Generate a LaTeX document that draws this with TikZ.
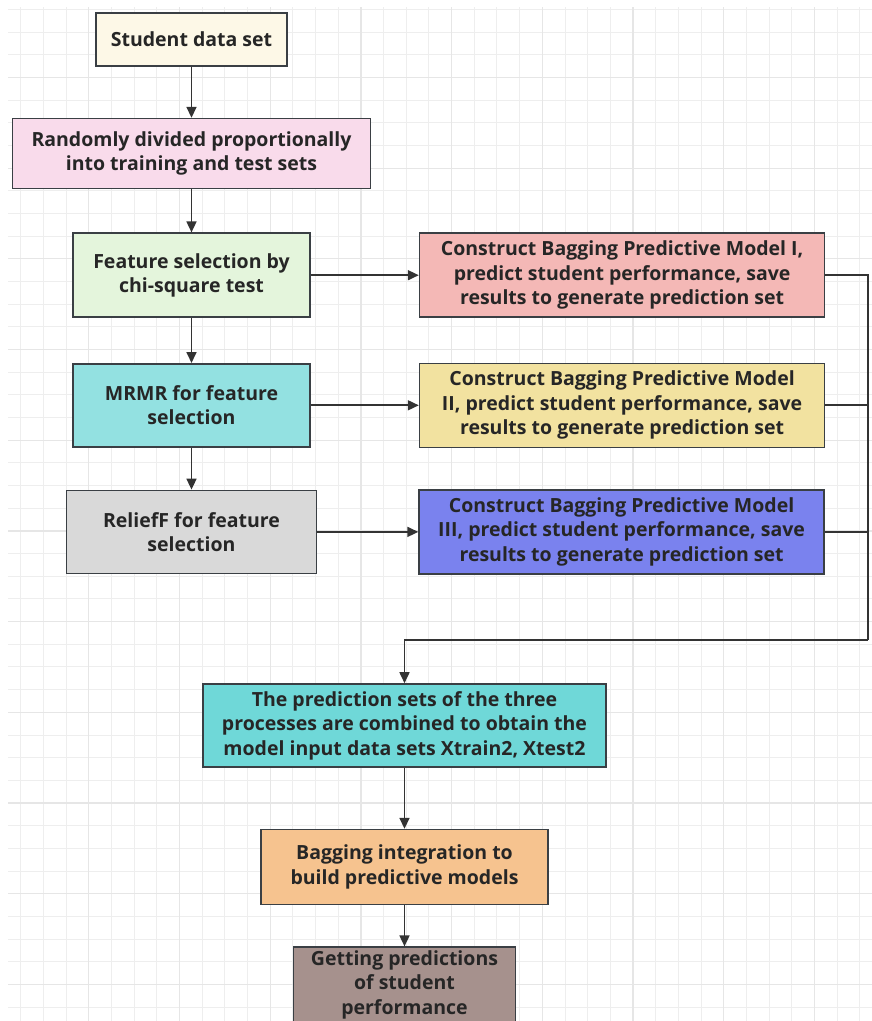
\documentclass[tikz,border=0pt]{standalone}
\usepackage{fontspec}
\setmainfont{Open Sans}
\usetikzlibrary{arrows.meta,positioning,calc}

\definecolor{gridminor}{HTML}{EEEEEE}
\definecolor{gridmajor}{HTML}{E6E6E6}
\definecolor{boxline}{HTML}{3A3F44}
\definecolor{wirecol}{HTML}{333333}
\definecolor{txt}{HTML}{262626}
\definecolor{cStud}{HTML}{FDF8E7}
\definecolor{cSplit}{HTML}{F9DBEB}
\definecolor{cChi}{HTML}{E4F5DC}
\definecolor{cMrmr}{HTML}{93E1E1}
\definecolor{cRelief}{HTML}{D9D9D9}
\definecolor{cModA}{HTML}{F4B8B6}
\definecolor{cModB}{HTML}{F2E2A0}
\definecolor{cModC}{HTML}{7A82EE}
\definecolor{cComb}{HTML}{6FD8D8}
\definecolor{cBag}{HTML}{F6C38F}
\definecolor{cGet}{HTML}{A6918D}

\begin{document}
\begin{tikzpicture}[
  x=1pt, y=-1pt,
  box/.style    = {draw=boxline, line width=1.6pt, rectangle, align=center,
                   inner sep=2pt, text=txt,
                   font=\fontsize{19.5}{24.5}\selectfont\bfseries},
  model/.style  = {box, minimum width=405pt, minimum height=84pt},
  wire/.style   = {draw=wirecol, line width=1.7pt},
  arr/.style    = {wire, -{Triangle[length=11pt, width=10pt]}},
]
\useasboundingbox (0,0) rectangle (872,1021);
% background grid
\foreach \k in {0,...,38}
  \draw[gridminor, line width=1pt] (20.8+22.675*\k,7) -- (20.8+22.675*\k,1021);
\foreach \k in {0,...,44}
  \draw[gridminor, line width=1pt] (8,9.4+22.675*\k) -- (872,9.4+22.675*\k);
\foreach \k in {0,...,9}
  \draw[gridmajor, line width=1.2pt] (88.8+90.7*\k,7) -- (88.8+90.7*\k,1021);
\foreach \k in {0,...,10}
  \draw[gridmajor, line width=1.2pt] (8,77.4+90.7*\k) -- (872,77.4+90.7*\k);

% left column
\node[box, fill=cStud, minimum width=191pt, minimum height=53pt] (stud)
     at (191.5,39.5) {Student data set};
\node[box, fill=cSplit, minimum width=358pt, minimum height=70pt,
      below=51pt of stud] (split)
     {Randomly divided proportionally\\into training and test sets};
\node[box, fill=cChi, minimum width=237pt, minimum height=84pt,
      below=43pt of split] (chi)
     {Feature selection by\\chi-square test};
\node[box, fill=cMrmr, minimum width=237pt, minimum height=83pt,
      below=45pt of chi] (mrmr)
     {MRMR for feature\\selection};
\node[box, fill=cRelief, minimum width=250pt, minimum height=83pt,
      below=42pt of mrmr] (relief)
     {ReliefF for feature\\selection};

% right column
\node[model, fill=cModA, right=108pt of chi] (modA)
     {Construct Bagging Predictive Model I,\\predict student performance, save\\results to generate prediction set};
\node[model, fill=cModB, right=108pt of mrmr] (modB)
     {Construct Bagging Predictive Model\\II, predict student performance, save\\results to generate prediction set};
\node[model, fill=cModC, right=101pt of relief] (modC)
     {Construct Bagging Predictive Model\\III, predict student performance, save\\results to generate prediction set};

% bottom
\node[box, fill=cComb, minimum width=403pt, minimum height=83pt] (comb)
     at (404.5,725.5)
     {The prediction sets of the three\\processes are combined to obtain the\\model input data sets Xtrain2, Xtest2};
\node[box, fill=cBag, minimum width=287pt, minimum height=75pt,
      below=61pt of comb] (bag)
     {Bagging integration to\\build predictive models};
\node[box, fill=cGet, minimum width=222pt, minimum height=75pt,
      below=41pt of bag] (get)
     {Getting predictions\\of student\\performance};

\coordinate (busR) at (868,640);

\draw[arr] (stud) -- (split);
\draw[arr] (split) -- (chi);
\draw[arr] (chi) -- (mrmr);
\draw[arr] (mrmr) -- (relief);
\draw[arr] (chi) -- (modA);
\draw[arr] (mrmr) -- (modB);
\draw[arr] (relief) -- (modC);
\draw[wire] (modA.east) -| (busR);
\draw[wire] (modB.east) -- (modB.east -| busR);
\draw[wire] (modC.east) -- (modC.east -| busR);
\draw[arr] (busR) -| (comb.north);
\draw[arr] (comb) -- (bag);
\draw[arr] (bag) -- (get);
\end{tikzpicture}
\end{document}
